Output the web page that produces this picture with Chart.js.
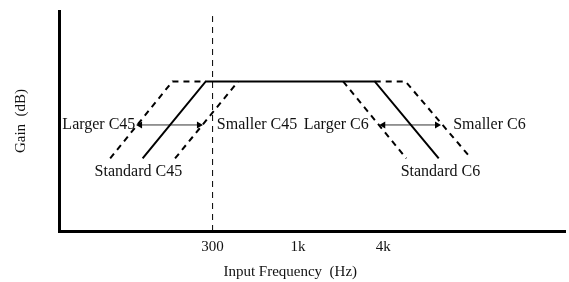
<!DOCTYPE html>
<html>
<head>
<meta charset="utf-8">
<script src="https://cdn.jsdelivr.net/npm/chart.js@4/dist/chart.umd.min.js"></script>
<style>
  html, body { margin: 0; padding: 0; background: #fff; }
  #wrap { width: 569px; height: 282px; }
</style>
</head>
<body>
<div id="wrap"><canvas id="gain"></canvas></div>
<script>
// x is a relative frequency position (one unit between ticks), y is relative gain
var tickValues = [1.8, 2.8, 3.8];
var tickLabels = ['300', '1k', '4k'];

var standardX = [0.98, 1.72, 3.70, 4.45];
var standardY = [3.3, 6.8, 6.8, 3.3];
var largerC45X = [0.60, 1.33, 1.72];
var largerC45Y = [3.3, 6.8, 6.8];
var smallerC45X = [1.36, 2.10];
var smallerC45Y = [3.3, 6.8];
var largerC6X = [3.33, 4.07];
var largerC6Y = [6.8, 3.3];
var smallerC6X = [3.70, 4.06, 4.83];
var smallerC6Y = [6.8, 6.8, 3.3];
var cutoffX = [1.8, 1.8];
var cutoffY = [0, 9.77];
var arrowC45X = [0.95, 1.64];
var arrowC6X = [3.80, 4.43];
var arrowY = 4.82;

var labelText = ['Larger C45', 'Smaller C45', 'Standard C45', 'Larger C6', 'Smaller C6', 'Standard C6'];
var labelX = [0.895, 1.85, 0.93, 3.63, 4.62, 4.47];
var labelY = [4.82, 4.82, 2.68, 4.82, 4.82, 2.68];
var labelAlign = ['right', 'left', 'center', 'right', 'left', 'center'];

var xTitle = 'Input Frequency  (Hz)';
var xTitleX = 2.71;
var yTitle = 'Gain  (dB)';

var serif = '"Liberation Serif", "Times New Roman", serif';

function pts(xs, ys) {
    return xs.map(function(x, i) { return {x: x, y: ys[i]}; });
}

function lineSet(data, dashed, width) {
    return {
        data: data,
        borderColor: '#000',
        borderWidth: width || 2,
        borderDash: dashed ? [6, 5] : [],
        pointRadius: 0,
        showLine: true,
        tension: 0,
        fill: false
    };
}

function arrowSet(xs) {
    return {
        data: pts(xs, [arrowY, arrowY]),
        borderColor: '#333',
        backgroundColor: '#000',
        borderWidth: 1,
        showLine: true,
        pointStyle: 'triangle',
        pointRadius: 4,
        pointBorderWidth: 0,
        pointRotation: [-90, 90]
    };
}

// text labels and the x title, placed through the scales
var annotations = {
    id: 'annotations',
    afterDatasetsDraw: function(chart) {
        var ctx = chart.ctx;
        var xs = chart.scales.x, ys = chart.scales.y;
        ctx.save();
        ctx.fillStyle = '#111';
        ctx.font = '16px ' + serif;
        ctx.textBaseline = 'middle';
        labelText.forEach(function(t, i) {
            ctx.textAlign = labelAlign[i];
            ctx.fillText(t, xs.getPixelForValue(labelX[i]), ys.getPixelForValue(labelY[i]));
        });
        ctx.font = '15px ' + serif;
        ctx.textAlign = 'center';
        ctx.fillText(xTitle, xs.getPixelForValue(xTitleX), chart.height - 10);
        ctx.restore();
    }
};

var ctx = document.getElementById('gain').getContext('2d');
new Chart(ctx, {
    type: 'scatter',
    data: {
        datasets: [
            lineSet(pts(cutoffX, cutoffY), true, 1),
            lineSet(pts(largerC45X, largerC45Y), true),
            lineSet(pts(smallerC45X, smallerC45Y), true),
            lineSet(pts(largerC6X, largerC6Y), true),
            lineSet(pts(smallerC6X, smallerC6Y), true),
            lineSet(pts(standardX, standardY), false),
            arrowSet(arrowC45X),
            arrowSet(arrowC6X)
        ]
    },
    options: {
        responsive: true,
        maintainAspectRatio: false,
        animation: false,
        layout: { padding: { top: 11, right: 0, left: 0, bottom: 0 } },
        plugins: { legend: { display: false }, tooltip: { enabled: false } },
        scales: {
            x: {
                type: 'linear',
                min: 0,
                max: 5.93,
                grid: { display: false, drawTicks: false },
                border: { display: true, color: '#000', width: 3 },
                afterBuildTicks: function(scale) {
                    scale.ticks = tickValues.map(function(v) { return {value: v}; });
                },
                afterFit: function(scale) { scale.height = 51; },
                ticks: {
                    padding: 7,
                    color: '#111',
                    font: { family: serif, size: 15 },
                    maxRotation: 0,
                    autoSkip: false,
                    callback: function(v, i) { return tickLabels[i]; }
                }
            },
            y: {
                type: 'linear',
                min: 0,
                max: 10,
                grid: { display: false, drawTicks: false },
                border: { display: true, color: '#000', width: 3 },
                ticks: { display: false },
                afterFit: function(scale) { scale.width = 59; },
                title: {
                    display: true,
                    text: yTitle,
                    color: '#111',
                    font: { family: serif, size: 15 },
                    padding: { top: 12, bottom: 0 }
                }
            }
        }
    },
    plugins: [annotations]
});
</script>
</body>
</html>
